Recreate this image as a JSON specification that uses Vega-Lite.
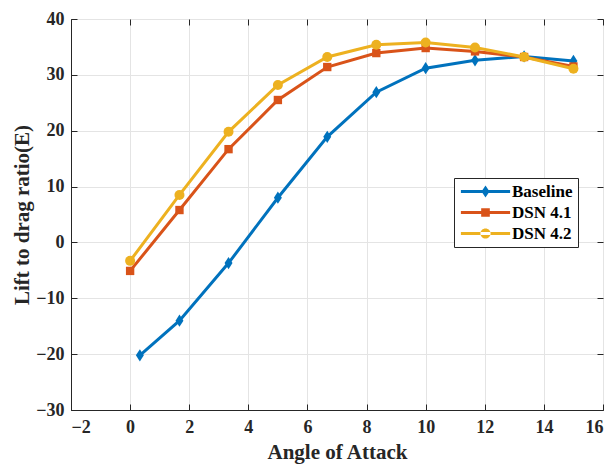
{
  "$schema": "https://vega.github.io/schema/vega-lite/v6.json",
  "autosize": "none",
  "width": 532,
  "height": 391,
  "padding": {"left": 71, "top": 19, "right": 13, "bottom": 55},
  "background": "white",
  "config": {
    "view": {"stroke": "#262626", "strokeWidth": 1},
    "font": "Liberation Serif",
    "axis": {
      "labelFont": "Liberation Serif",
      "labelFontWeight": "bold",
      "labelFontSize": 18,
      "labelColor": "#262626",
      "titleFont": "Liberation Serif",
      "titleFontWeight": "bold",
      "titleFontSize": 21,
      "titleColor": "#262626",
      "domainColor": "#262626",
      "domainWidth": 1,
      "tickColor": "#262626",
      "tickSize": 6,
      "gridColor": "#e4e4e4",
      "gridWidth": 1
    }
  },
  "data": {
    "values": [
      {"series": "Baseline", "aoa": 0.33, "E": -20.2},
      {"series": "Baseline", "aoa": 1.67, "E": -14.0},
      {"series": "Baseline", "aoa": 3.33, "E": -3.7},
      {"series": "Baseline", "aoa": 5.0, "E": 8.0},
      {"series": "Baseline", "aoa": 6.67, "E": 18.9},
      {"series": "Baseline", "aoa": 8.33, "E": 26.9},
      {"series": "Baseline", "aoa": 10.0, "E": 31.2},
      {"series": "Baseline", "aoa": 11.67, "E": 32.6},
      {"series": "Baseline", "aoa": 13.33, "E": 33.3},
      {"series": "Baseline", "aoa": 15.0, "E": 32.5},
      {"series": "DSN 4.1", "aoa": 0.0, "E": -5.1},
      {"series": "DSN 4.1", "aoa": 1.67, "E": 5.8},
      {"series": "DSN 4.1", "aoa": 3.33, "E": 16.7},
      {"series": "DSN 4.1", "aoa": 5.0, "E": 25.5},
      {"series": "DSN 4.1", "aoa": 6.67, "E": 31.4},
      {"series": "DSN 4.1", "aoa": 8.33, "E": 33.9},
      {"series": "DSN 4.1", "aoa": 10.0, "E": 34.8},
      {"series": "DSN 4.1", "aoa": 11.67, "E": 34.2},
      {"series": "DSN 4.1", "aoa": 13.33, "E": 33.2},
      {"series": "DSN 4.1", "aoa": 15.0, "E": 31.5},
      {"series": "DSN 4.2", "aoa": 0.0, "E": -3.3},
      {"series": "DSN 4.2", "aoa": 1.67, "E": 8.5},
      {"series": "DSN 4.2", "aoa": 3.33, "E": 19.8},
      {"series": "DSN 4.2", "aoa": 5.0, "E": 28.2},
      {"series": "DSN 4.2", "aoa": 6.67, "E": 33.2},
      {"series": "DSN 4.2", "aoa": 8.33, "E": 35.4},
      {"series": "DSN 4.2", "aoa": 10.0, "E": 35.8},
      {"series": "DSN 4.2", "aoa": 11.67, "E": 34.9},
      {"series": "DSN 4.2", "aoa": 13.33, "E": 33.2},
      {"series": "DSN 4.2", "aoa": 15.0, "E": 31.1}
    ]
  },
  "layer": [
    {
      "layer": [
        {
          "mark": {"type": "line", "strokeWidth": 3},
          "encoding": {
            "x": {"field": "aoa", "type": "quantitative",
              "scale": {"domain": [-2, 16], "nice": false, "zero": false},
              "axis": {"orient": "bottom", "grid": true, "ticks": false, "title": "Angle of Attack", "values": [-2,0,2,4,6,8,10,12,14,16], "labelPadding": 8, "titlePadding": 5}},
            "y": {"field": "E", "type": "quantitative",
              "scale": {"domain": [-30, 40], "nice": false, "zero": false},
              "axis": {"orient": "left", "grid": true, "ticks": false, "title": "Lift to drag ratio(E)", "values": [-30,-20,-10,0,10,20,30,40], "labelPadding": 7, "titlePadding": 3}},
            "color": {"field": "series", "type": "nominal",
              "scale": {"domain": ["Baseline", "DSN 4.1", "DSN 4.2"], "range": ["#0072BD", "#D95319", "#EDB120"]},
              "legend": {
                "title": null,
                "orient": "none",
                "legendX": 383,
                "legendY": 159,
                "padding": 5,
                "strokeColor": "#262626",
                "fillColor": "white",
                "labelFont": "Liberation Serif",
                "labelFontWeight": "bold",
                "labelFontSize": 17,
                "labelColor": "#000000",
                "labelOffset": 18,
                "symbolOffset": 18,
                "symbolSize": 144,
                "rowPadding": 3,
                "encode": {
                  "symbols": {
                    "update": {
                      "shape": {"signal": "datum.value === 'Baseline' ? 'M-4.1,-0.25H4.1V0.25H-4.1Z M0,-1L0.67,0L0,1L-0.67,0Z' : (datum.value === 'DSN 4.1' ? 'M-4.1,-0.25H4.1V0.25H-4.1Z M-0.72,-0.72H0.72V0.72H-0.72Z' : 'M-4.1,-0.25H4.1V0.25H-4.1Z M-0.85,0A0.85,0.85,0,1,0,0.85,0A0.85,0.85,0,1,0,-0.85,0Z')"},
                      "fill": {"scale": "color", "field": "value"},
                      "fillOpacity": {"value": 1},
                      "strokeWidth": {"value": 0}
                    }
                  }
                }
              }}
          }
        },
        {
          "transform": [{"filter": "datum.series === 'Baseline'"}],
          "mark": {"type": "point", "filled": true, "opacity": 1, "shape": "M0,-1L0.65,0L0,1L-0.65,0Z", "size": 150},
          "encoding": {
            "x": {"field": "aoa", "type": "quantitative"},
            "y": {"field": "E", "type": "quantitative"},
            "color": {"field": "series", "type": "nominal"}
          }
        },
        {
          "transform": [{"filter": "datum.series === 'DSN 4.1'"}],
          "mark": {"type": "point", "filled": true, "opacity": 1, "shape": "square", "size": 70},
          "encoding": {
            "x": {"field": "aoa", "type": "quantitative"},
            "y": {"field": "E", "type": "quantitative"},
            "color": {"field": "series", "type": "nominal"}
          }
        },
        {
          "transform": [{"filter": "datum.series === 'DSN 4.2'"}],
          "mark": {"type": "point", "filled": true, "opacity": 1, "shape": "circle", "size": 100},
          "encoding": {
            "x": {"field": "aoa", "type": "quantitative"},
            "y": {"field": "E", "type": "quantitative"},
            "color": {"field": "series", "type": "nominal"}
          }
        }
      ]
    },
    {
      "mark": {"type": "point", "opacity": 0},
      "encoding": {
        "x": {"field": "aoa", "type": "quantitative",
          "axis": {"orient": "top", "offset": -391, "labels": false, "domain": false, "title": null, "grid": false, "values": [-2,0,2,4,6,8,10,12,14,16]}},
        "y": {"field": "E", "type": "quantitative",
          "axis": {"orient": "right", "offset": -532, "labels": false, "domain": false, "title": null, "grid": false, "values": [-30,-20,-10,0,10,20,30,40]}}
      }
    },
    {
      "mark": {"type": "point", "opacity": 0},
      "encoding": {
        "x": {"field": "aoa", "type": "quantitative",
          "axis": {"orient": "bottom", "offset": -391, "labels": false, "domain": false, "title": null, "grid": false, "values": [-2,0,2,4,6,8,10,12,14,16]}},
        "y": {"field": "E", "type": "quantitative",
          "axis": {"orient": "left", "offset": -532, "labels": false, "domain": false, "title": null, "grid": false, "values": [-30,-20,-10,0,10,20,30,40]}}
      }
    }
  ],
  "resolve": {"axis": {"x": "independent", "y": "independent"}}
}
